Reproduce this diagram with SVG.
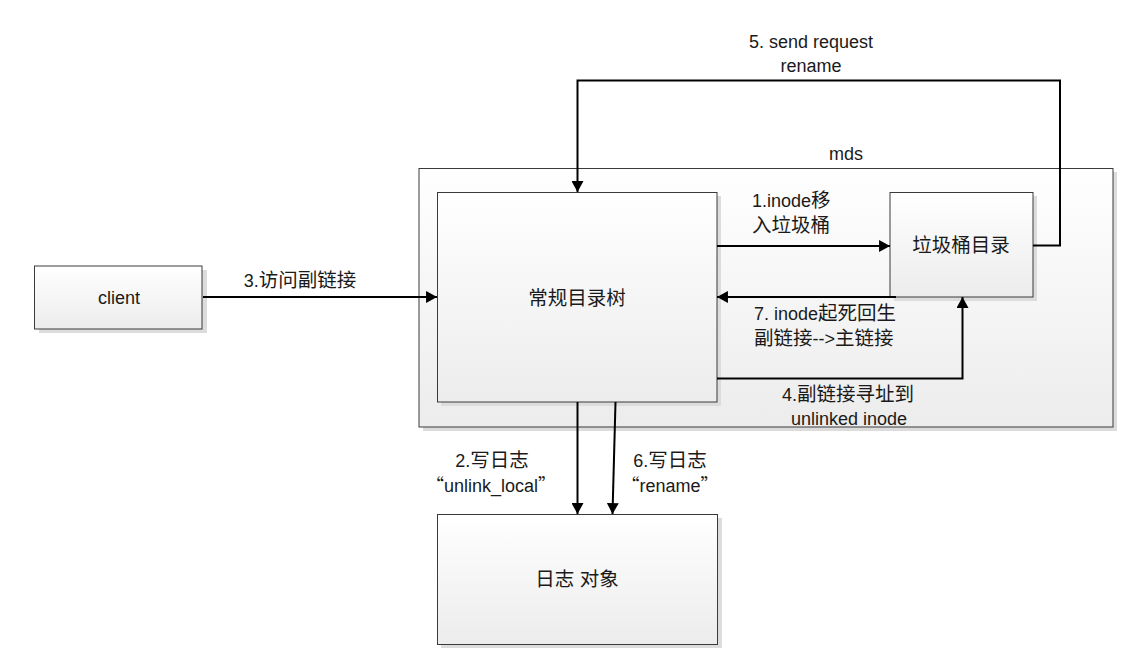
<svg xmlns="http://www.w3.org/2000/svg" width="1124" height="659" viewBox="0 0 1124 659">
<style>
text{font-family:"Liberation Sans","Noto Sans CJK SC",sans-serif;font-size:18px;fill:#1a1a1a}
.k{font-size:19.5px}
.box{fill:url(#g);stroke:#3a3a3a;stroke-width:1}
.sh{fill:#dcdcdc}
.c{fill:none;stroke:#000;stroke-width:2}
.m{text-anchor:middle}
</style>
<defs>
<linearGradient id="g" x1="0" y1="0" x2="0" y2="1">
<stop offset="0" stop-color="#ffffff"/>
<stop offset="1" stop-color="#ececec"/>
</linearGradient>
<marker id="a" markerUnits="userSpaceOnUse" markerWidth="12" markerHeight="12" viewBox="0 0 10 11" refX="10" refY="5.5" orient="auto">
<path d="M0,0 L10,5.5 L0,11 z" fill="#000"/>
</marker>
</defs>
<g id="mds">
<rect class="sh" x="423" y="172" width="694" height="259"/>
<rect class="box" x="419" y="168.5" width="694" height="258.5"/>
<text class="m" x="846" y="160">mds</text>
</g>
<g id="tree">
<rect class="sh" x="441" y="196" width="280" height="210"/>
<rect class="box" x="437.5" y="192.5" width="279.5" height="209.5"/>
<text class="m k" x="577" y="305">常规目录树</text>
</g>
<g id="trash">
<rect class="sh" x="894" y="196" width="143" height="105"/>
<rect class="box" x="890" y="192.5" width="143" height="104.5"/>
<text class="m k" x="961" y="252">垃圾桶目录</text>
</g>
<g id="client">
<rect class="sh" x="39" y="270" width="168" height="63"/>
<rect class="box" x="34.5" y="266" width="167.5" height="63"/>
<text class="m" x="119" y="304">client</text>
</g>
<g id="log">
<rect class="sh" x="441" y="518" width="281" height="130"/>
<rect class="box" x="437.5" y="514.5" width="280" height="130"/>
<text class="m k" x="577" y="586">日志 对象</text>
</g>
<g id="connectors">
<path class="c" d="M203,297 L437,297" marker-end="url(#a)"/>
<path class="c" d="M717,246 L890,246" marker-end="url(#a)"/>
<path class="c" d="M896,297 L717,297" marker-end="url(#a)"/>
<path class="c" d="M717,378.5 L962.5,378.5 L962.5,297" marker-end="url(#a)"/>
<path class="c" d="M1033,245.5 L1060,245.5 L1060,80.5 L577.5,80.5 L577.5,192" marker-end="url(#a)"/>
<path class="c" d="M577.5,402 L577.5,514" marker-end="url(#a)"/>
<path class="c" d="M615.5,402 L612.5,514" marker-end="url(#a)"/>
</g>
<g id="labels">
<text class="m" x="811" y="48">5. send request</text>
<text class="m" x="811" y="72">rename</text>
<text x="752" y="207">1.inode<tspan class="k">移</tspan></text>
<text class="k" x="752" y="232">入垃圾桶</text>
<text x="754" y="320">7. inode<tspan class="k">起死回生</tspan></text>
<text class="k" x="754" y="345">副链接<tspan style="font-size:18px">--&gt;</tspan>主链接</text>
<text class="m" x="848" y="401">4.<tspan class="k">副链接寻址到</tspan></text>
<text class="m" x="849" y="425">unlinked inode</text>
<text class="m" x="300" y="287">3.<tspan class="k">访问副链接</tspan></text>
<text class="m" x="492" y="467">2.<tspan class="k">写日志</tspan></text>
<text class="m" x="491" y="492"><tspan font-family="Noto Sans CJK SC">“</tspan>unlink_local<tspan font-family="Noto Sans CJK SC">”</tspan></text>
<text class="m" x="670" y="467">6.<tspan class="k">写日志</tspan></text>
<text class="m" x="670" y="492"><tspan font-family="Noto Sans CJK SC">“</tspan>rename<tspan font-family="Noto Sans CJK SC">”</tspan></text>
</g>
</svg>
